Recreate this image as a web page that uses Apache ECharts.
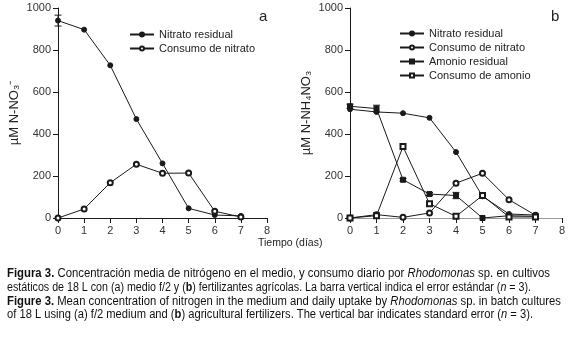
<!DOCTYPE html>
<html>
<head>
<meta charset="utf-8">
<script src="https://cdn.jsdelivr.net/npm/echarts@6/dist/echarts.min.js"></script>
<style>
  html, body { margin: 0; padding: 0; background: #fff; }
  #chart { width: 573px; height: 341px; }
</style>
</head>
<body>
<div id="chart"></div>
<script>
// dias de cultivo
var days = [0, 1, 2, 3, 4, 5, 6, 7]

// (a) medio f/2
var aNitratoResidual = [940, 897, 727, 471, 260, 46, 14, 10]
var aConsumoNitrato = [0, 43, 168, 256, 213, 214, 32, 5]
var aErrNitrato = [26, 0, 0, 0, 0, 0, 0, 0]

// (b) fertilizantes agricolas
var bNitratoResidual = [518, 505, 499, 477, 314, 103, 19, 14]
var bConsumoNitrato = [0, 16, 3, 24, 166, 213, 87, 13]
var bAmonioResidual = [532, 521, 182, 114, 107, 0, 11, 8]
var bConsumoAmonio = [0, 11, 340, 68, 8, 107, 5, 5]
var bErrAmonio = [10, 16, 6, 7, 15, 0, 0, 0]

var yTicks = [0, 200, 400, 600, 800, 1000]

var FONT = 'Liberation Sans'
var INK = '#1a1a1a'
var CAP_SIZE = 12

function pairs(vals) {
  return days.map(function (d, i) { return [d, vals[i]] })
}
function errData(vals, errs) {
  var out = []
  days.forEach(function (d, i) {
    if (errs[i] > 0) out.push([d, vals[i] - errs[i], vals[i] + errs[i]])
  })
  return out
}

function lineSeries(name, vals, symbol, idx) {
  return {
    name: name,
    type: 'line',
    xAxisIndex: idx,
    yAxisIndex: idx,
    data: pairs(vals),
    symbol: symbol,
    symbolSize: 5,
    showSymbol: true,
    lineStyle: { color: INK, width: 1 },
    itemStyle: { color: INK, borderColor: INK, borderWidth: 1 },
    emphasis: { disabled: true },
    z: 3,
  }
}

function errSeries(vals, errs, idx) {
  return {
    type: 'custom',
    xAxisIndex: idx,
    yAxisIndex: idx,
    data: errData(vals, errs),
    encode: { x: 0, y: [1, 2] },
    z: 4,
    silent: true,
    renderItem: function (params, api) {
      var x = api.value(0)
      var lo = api.coord([x, api.value(1)])
      var hi = api.coord([x, api.value(2)])
      var w = 3.5
      var st = { stroke: INK, lineWidth: 1 }
      return {
        type: 'group',
        children: [
          { type: 'line', shape: { x1: lo[0], y1: lo[1], x2: hi[0], y2: hi[1] }, style: st },
          { type: 'line', shape: { x1: lo[0] - w, y1: lo[1], x2: lo[0] + w, y2: lo[1] }, style: st },
          { type: 'line', shape: { x1: hi[0] - w, y1: hi[1], x2: hi[0] + w, y2: hi[1] }, style: st },
        ],
      }
    },
  }
}

function xAxisFor(idx, lineColor) {
  return {
    type: 'value',
    gridIndex: idx,
    min: 0,
    max: 8,
    interval: 1,
    splitLine: { show: false },
    axisLine: { onZero: false, lineStyle: { color: lineColor, width: 1 } },
    axisTick: { length: 5, lineStyle: { color: INK } },
    axisLabel: { color: '#333', fontFamily: FONT, fontSize: 11, margin: 7 },
  }
}

function yAxisFor(idx, name) {
  return {
    type: 'value',
    gridIndex: idx,
    min: yTicks[0],
    max: yTicks[yTicks.length - 1],
    interval: 200,
    name: name,
    nameLocation: 'middle',
    nameGap: 37,
    nameTextStyle: { color: '#222', fontFamily: FONT, fontSize: 13 },
    splitLine: { show: false },
    axisLine: { show: true, lineStyle: { color: INK, width: 1 } },
    axisTick: { show: true, length: 5, lineStyle: { color: INK } },
    axisLabel: { color: '#333', fontFamily: FONT, fontSize: 11, margin: 7, formatter: function (v) { return String(v) } },
  }
}

var capStyle = {
  b: { fontWeight: 'bold', fontFamily: FONT, fontSize: CAP_SIZE, fill: '#111' },
  i: { fontStyle: 'italic', fontFamily: FONT, fontSize: CAP_SIZE, fill: '#111' },
}
var captionLines = [
  '{b|Figura 3.} Concentración media de nitrógeno en el medio, y consumo diario por {i|Rhodomonas} sp. en cultivos',
  'estáticos de 18 L con (a) medio f/2 y ({b|b}) fertilizantes agrícolas. La barra vertical indica el error estándar ({i|n} = 3).',
  '{b|Figure 3.} Mean concentration of nitrogen in the medium and daily uptake by {i|Rhodomonas} sp. in batch cultures',
  'of 18 L using (a) f/2 medium and ({b|b}) agricultural fertilizers. The vertical bar indicates standard error ({i|n} = 3).',
]
// ancho de cada linea en la figura original (px)
var captionWidths = [543, 524, 554, 526]

// mide el texto enriquecido para comprimirlo al ancho original
var mctx = document.createElement('canvas').getContext('2d')
function textWidth(line) {
  var w = 0
  var re = /\{(b|i)\|([^}]*)\}|([^{]+)/g
  var m
  while ((m = re.exec(line)) !== null) {
    if (m[1] === 'b') mctx.font = 'bold ' + CAP_SIZE + 'px ' + FONT
    else if (m[1] === 'i') mctx.font = 'italic ' + CAP_SIZE + 'px ' + FONT
    else mctx.font = CAP_SIZE + 'px ' + FONT
    w += mctx.measureText(m[2] !== undefined ? m[2] : m[3]).width
  }
  return w
}

var chart = echarts.init(document.getElementById('chart'), null, { renderer: 'canvas' })

var option = {
  backgroundColor: '#fff',
  animation: false,
  textStyle: { fontFamily: FONT },
  grid: [
    { left: 58, right: 306, top: 8, bottom: 123 },
    { left: 350, right: 11, top: 8, bottom: 123 },
  ],
  xAxis: [xAxisFor(0, INK), xAxisFor(1, '#999')],
  yAxis: [yAxisFor(0, 'µM N-NO₃⁻'), yAxisFor(1, 'µM N-NH₄NO₃')],
  legend: [
    {
      left: 124, top: 24, orient: 'vertical', itemGap: 3,
      itemWidth: 24, itemHeight: 5,
      data: ['Nitrato residual', 'Consumo de nitrato'],
      textStyle: { color: '#222', fontFamily: FONT, fontSize: 11 },
      selectedMode: false,
    },
    {
      left: 394, top: 23, orient: 'vertical', itemGap: 3,
      itemWidth: 24, itemHeight: 5,
      data: ['Nitrato residual ', 'Consumo de nitrato ', 'Amonio residual', 'Consumo de amonio'],
      textStyle: { color: '#222', fontFamily: FONT, fontSize: 11 },
      selectedMode: false,
    },
  ],
  graphic: [
    { type: 'text', left: 259, top: 9, style: { text: 'a', fontFamily: FONT, fontSize: 15, fill: '#222' } },
    { type: 'text', left: 551, top: 9, style: { text: 'b', fontFamily: FONT, fontSize: 15, fill: '#222' } },
    { type: 'text', left: 258, top: 238, style: { text: 'Tiempo (días)', fontFamily: FONT, fontSize: 10.5, fill: '#222' } },
  ].concat(captionLines.map(function (t, i) {
    return {
      type: 'text',
      x: 7,
      y: 268 + i * 13.6,
      scaleX: captionWidths[i] / textWidth(t),
      style: { text: t, rich: capStyle, fontFamily: FONT, fontSize: CAP_SIZE, fill: '#111' },
    }
  })),
  series: [
    lineSeries('Nitrato residual', aNitratoResidual, 'circle', 0),
    lineSeries('Consumo de nitrato', aConsumoNitrato, 'emptyCircle', 0),
    errSeries(aNitratoResidual, aErrNitrato, 0),
    lineSeries('Nitrato residual ', bNitratoResidual, 'circle', 1),
    lineSeries('Consumo de nitrato ', bConsumoNitrato, 'emptyCircle', 1),
    lineSeries('Amonio residual', bAmonioResidual, 'rect', 1),
    lineSeries('Consumo de amonio', bConsumoAmonio, 'emptyRect', 1),
    errSeries(bAmonioResidual, bErrAmonio, 1),
  ],
}

chart.setOption(option)
</script>
</body>
</html>
